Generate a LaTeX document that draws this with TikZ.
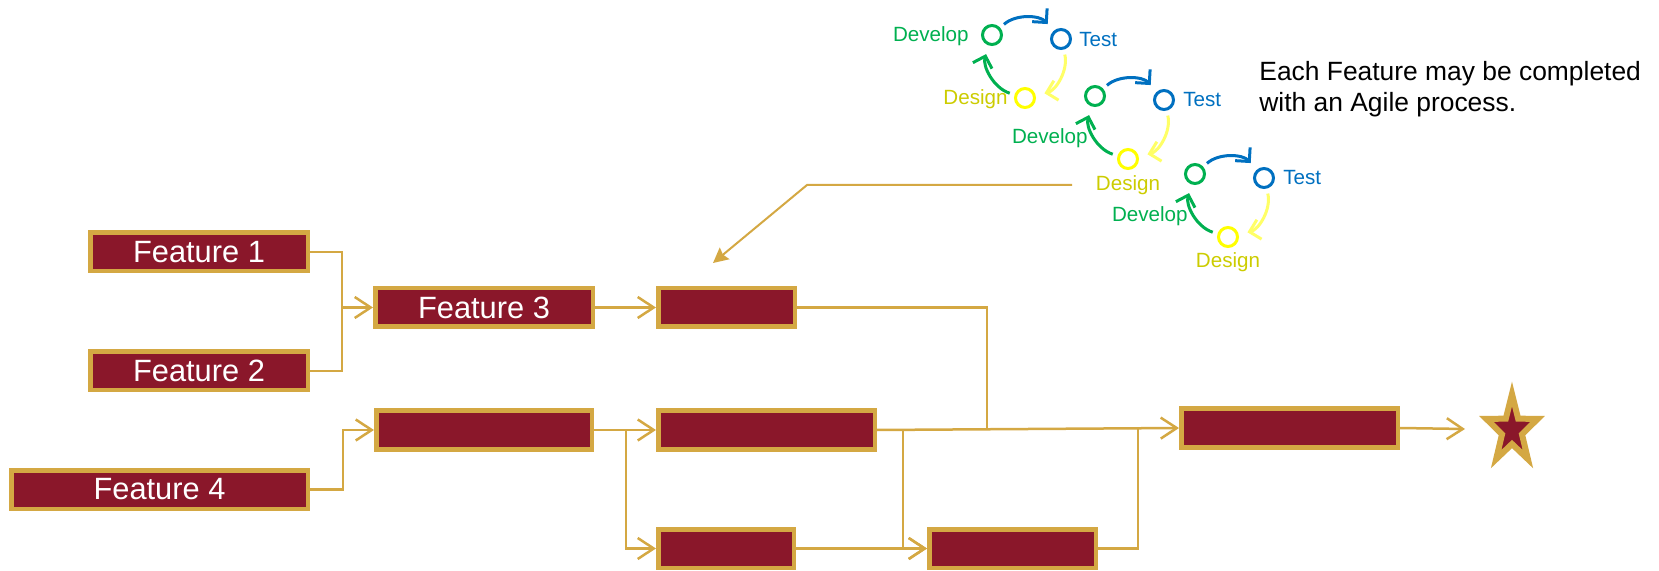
\documentclass[tikz,border=0pt]{standalone}
\usepackage{fontspec}
\setmainfont{Liberation Sans}
\usetikzlibrary{arrows.meta}
\definecolor{dred}{RGB}{138,23,42}
\definecolor{gold}{RGB}{212,168,67}
\definecolor{cgreen}{RGB}{0,176,80}
\definecolor{cblue}{RGB}{0,112,192}
\definecolor{cyel}{RGB}{255,255,0}
\definecolor{cyelarrow}{RGB}{255,255,102}
\definecolor{cyeltext}{RGB}{204,204,0}
\begin{document}
\begin{tikzpicture}[x=0.5pt,y=0.5pt,
  box/.style={draw=gold, line width=2.25pt, fill=dred, minimum height=19.25pt,
    inner sep=0pt, text=white, font=\fontsize{15.4}{17}\selectfont},
  link/.style={draw=gold, line width=1.25pt},
  flow/.style={link, -{Straight Barb[length=8pt,width=10.5pt]}},
  stage/.style={circle, line width=1.5pt, minimum size=9.5pt, inner sep=0pt},
  cyc/.style={line width=1.5pt, shorten <=2.5pt, shorten >=4.5pt,
    -{Straight Barb[length=5pt,width=10pt]}},
  lbl/.style={inner sep=0pt, font=\fontsize{10.3}{12}\selectfont},
  note/.style={inner sep=0pt, align=left, font=\fontsize{13.2}{15.5}\selectfont}
]
\useasboundingbox (0,0) rectangle (1659,-571);

% feature boxes
\node[box, minimum width=108.75pt] (f1) at (199,-252) {Feature 1};
\node[box, minimum width=108.75pt] (f2) at (199,-371) {Feature 2};
\node[box, minimum width=108.75pt] (f3) at (484,-307.5) {Feature 3};
\node[box, minimum width=148.25pt] (f4) at (159.5,-489.5) {Feature 4};
\node[box, minimum width=107.75pt] (a) at (484,-430) {};
\node[box, minimum width=68.25pt] (b) at (726.5,-307.5) {};
\node[box, minimum width=108.25pt] (c) at (766.5,-430) {};
\node[box, minimum width=67.75pt] (d) at (726,-548.5) {};
\node[box, minimum width=83.25pt] (e) at (1012.5,-548.5) {};
\node[box, minimum width=108.25pt] (g) at (1289.5,-428) {};

% junction points
\coordinate (j1) at (342,-307.5);
\coordinate (j2) at (343,-430);
\coordinate (j3) at (626,-430);
\coordinate (j4) at (987,-428.8);
\coordinate (j5) at (903,-429.8);
\coordinate (j6) at (1138,-428.2);
\coordinate (sw) at (1465,-429);

% connectors
\draw[link] (f1.east) -| (j1);
\draw[link] (f2.east) -| (j1);
\draw[flow] (j1) -- (f3.west);
\draw[flow] (f4.east) -| (j2) -- (a.west);
\draw[flow] (a.east) -- (c.west);
\draw[flow] (j3) |- (d.west);
\draw[flow] (f3.east) -- (b.west);
\draw[link] (b.east) -| (j4);
\draw[flow] (c.east) -- (g.west);
\draw[flow] (j5) |- (e.west);
\draw[flow] (d.east) -- (e.west);
\draw[link] (e.east) -| (j6);
\draw[flow] (g.east) -- (sw);

% goal star
\begin{scope}[shift={(1512,-430)}, xscale=0.75]
  \draw[gold, fill=dred, line width=3pt, miter limit=12]
    (90:36) -- (54:14) -- (18:36) -- (-18:14) -- (-54:36) -- (-90:14)
    -- (-126:36) -- (-162:14) -- (162:36) -- (126:14) -- cycle;
\end{scope}

% callout
\coordinate (cs) at (1072,-185);
\coordinate (ck) at (807,-185);
\coordinate (ct) at (713,-263);
\draw[gold, line width=1pt, -{Stealth[length=7.5pt,width=7.5pt,inset=1pt]}]
  (cs) -- (ck) -- (ct);

% agile cycle 1
\node[stage, draw=cgreen] (d1) at (992,-35) {};
\node[stage, draw=cblue] (t1) at (1061,-39) {};
\node[stage, draw=cyel] (g1) at (1025,-98) {};
\draw[cyc, cblue] (d1) to[bend left=45] (t1);
\draw[cyc, cyelarrow] (t1) to[bend left=45] (g1);
\draw[cyc, cgreen] (g1) to[bend left=45] (d1);
\node[lbl, text=cgreen, anchor=east] (dl1) at (969,-36) {Develop};
\node[lbl, text=cblue, anchor=west] (tl1) at (1079,-40) {Test};
\node[lbl, text=cyeltext, anchor=east] (gl1) at (1008,-99) {Design};

% agile cycle 2
\node[stage, draw=cgreen] (d2) at (1095,-96) {};
\node[stage, draw=cblue] (t2) at (1164,-100) {};
\node[stage, draw=cyel] (g2) at (1128,-159) {};
\draw[cyc, cblue] (d2) to[bend left=45] (t2);
\draw[cyc, cyelarrow] (t2) to[bend left=45] (g2);
\draw[cyc, cgreen] (g2) to[bend left=45] (d2);
\node[lbl, text=cgreen, anchor=east] (dl2) at (1088,-138) {Develop};
\node[lbl, text=cblue, anchor=west] (tl2) at (1183,-100) {Test};
\node[lbl, text=cyeltext] (gl2) at (1128,-185) {Design};

% agile cycle 3
\node[stage, draw=cgreen] (d3) at (1195,-174) {};
\node[stage, draw=cblue] (t3) at (1264,-178) {};
\node[stage, draw=cyel] (g3) at (1228,-237) {};
\draw[cyc, cblue] (d3) to[bend left=45] (t3);
\draw[cyc, cyelarrow] (t3) to[bend left=45] (g3);
\draw[cyc, cgreen] (g3) to[bend left=45] (d3);
\node[lbl, text=cgreen, anchor=east] (dl3) at (1188,-216) {Develop};
\node[lbl, text=cblue, anchor=west] (tl3) at (1283,-178) {Test};
\node[lbl, text=cyeltext] (gl3) at (1228,-262) {Design};

% note
\node[note, anchor=west] (nt) at (1259,-89) {Each Feature may be completed\\with an Agile process.};
\end{tikzpicture}
\end{document}
